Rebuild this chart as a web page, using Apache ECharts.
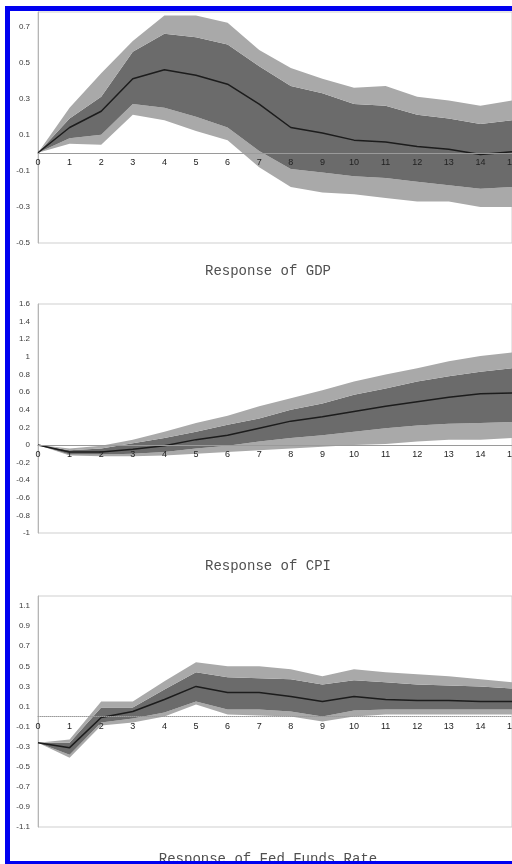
<!DOCTYPE html>
<html>
<head>
<meta charset="utf-8">
<script src="https://cdn.jsdelivr.net/npm/echarts@6/dist/echarts.min.js"></script>
<style>
html, body { margin: 0; padding: 0; background: #fff; }
#main { width: 512px; height: 864px; }
</style>
</head>
<body>
<div id="main"></div>
<script>
// horizon 0..15
var steps = ['0','1','2','3','4','5','6','7','8','9','10','11','12','13','14','15'];

// Response of GDP
var gdpMean    = [0, 0.14, 0.23, 0.41, 0.46, 0.43, 0.38, 0.27, 0.14, 0.11, 0.07, 0.06, 0.035, 0.02, -0.01, 0.005];
var gdpInnerHi = [0, 0.19, 0.31, 0.56, 0.66, 0.64, 0.6, 0.48, 0.37, 0.33, 0.27, 0.26, 0.21, 0.19, 0.16, 0.18];
var gdpInnerLo = [0, 0.08, 0.1, 0.27, 0.25, 0.2, 0.14, 0.01, -0.09, -0.11, -0.13, -0.14, -0.16, -0.18, -0.2, -0.19];
var gdpOuterHi = [0, 0.25, 0.44, 0.62, 0.76, 0.76, 0.72, 0.57, 0.47, 0.41, 0.36, 0.37, 0.31, 0.29, 0.26, 0.29];
var gdpOuterLo = [0, 0.05, 0.045, 0.21, 0.18, 0.12, 0.07, -0.08, -0.19, -0.22, -0.23, -0.25, -0.27, -0.27, -0.3, -0.3];

// Response of CPI
var cpiMean    = [0, -0.08, -0.08, -0.05, -0.01, 0.06, 0.11, 0.19, 0.27, 0.32, 0.38, 0.44, 0.49, 0.54, 0.58, 0.59];
var cpiInnerHi = [0, -0.06, -0.04, 0.02, 0.08, 0.15, 0.23, 0.3, 0.4, 0.47, 0.57, 0.64, 0.72, 0.78, 0.83, 0.87];
var cpiInnerLo = [0, -0.11, -0.11, -0.1, -0.08, -0.04, -0.01, 0.04, 0.08, 0.11, 0.15, 0.19, 0.22, 0.24, 0.25, 0.26];
var cpiOuterHi = [0, -0.04, -0.01, 0.06, 0.15, 0.25, 0.33, 0.44, 0.53, 0.62, 0.72, 0.8, 0.87, 0.95, 1.01, 1.05];
var cpiOuterLo = [0, -0.12, -0.13, -0.13, -0.12, -0.1, -0.08, -0.06, -0.04, -0.02, 0, 0.01, 0.04, 0.06, 0.06, 0.08];

// Response of Fed Funds Rate
var ffrMean    = [-0.26, -0.31, -0.01, 0.05, 0.17, 0.3, 0.24, 0.24, 0.2, 0.15, 0.2, 0.17, 0.16, 0.16, 0.15, 0.15];
var ffrInnerHi = [-0.26, -0.26, 0.09, 0.09, 0.27, 0.44, 0.39, 0.38, 0.37, 0.32, 0.36, 0.34, 0.32, 0.31, 0.3, 0.28];
var ffrInnerLo = [-0.26, -0.38, -0.06, -0.02, 0.04, 0.15, 0.07, 0.07, 0.05, 0.0, 0.06, 0.07, 0.07, 0.07, 0.07, 0.07];
var ffrOuterHi = [-0.26, -0.23, 0.15, 0.15, 0.35, 0.54, 0.5, 0.5, 0.47, 0.4, 0.47, 0.44, 0.42, 0.4, 0.37, 0.34];
var ffrOuterLo = [-0.26, -0.41, -0.09, -0.06, 0.0, 0.12, 0.02, 0.01, 0, -0.05, 0, 0.02, 0.02, 0.02, 0.02, 0.02];

var titles = ['Response of GDP', 'Response of CPI', 'Response of Fed Funds Rate'];

var lightGray = '#a9a9a9';
var darkGray = '#6b6b6b';

function diff(a, b) {
	return a.map(function(v, i) { return +(v - b[i]).toFixed(4); });
}

// stacked bands: outer low base, then light / dark / light layers
function bandSeries(idx, mean, inLo, inHi, outLo, outHi) {
	var st = 'band' + idx;
	var common = {
		type: 'line', xAxisIndex: idx, yAxisIndex: idx, stack: st, stackStrategy: 'all',
		symbol: 'none', silent: true, lineStyle: { width: 0, opacity: 0 }
	};
	function layer(data, color) {
		var s = Object.assign({}, common, { data: data });
		if (color) s.areaStyle = { color: color, opacity: 1 };
		return s;
	}
	return [
		layer(outLo, null),
		layer(diff(inLo, outLo), lightGray),
		layer(diff(inHi, inLo), darkGray),
		layer(diff(outHi, inHi), lightGray),
		{
			type: 'line', xAxisIndex: idx, yAxisIndex: idx, data: mean, symbol: 'none',
			silent: true, z: 5, lineStyle: { color: '#1c1c1c', width: 1.5 }
		}
	];
}

function oddTenths(v) {
	var t = Math.round(v * 10);
	if (Math.abs(t % 2) !== 1) return '';
	return (t / 10).toFixed(1);
}

var grids = [
	{ left: 38, right: 0, top: 12, height: 231 },
	{ left: 38, right: 0, top: 304, height: 229 },
	{ left: 38, right: 0, top: 596, height: 231 }
];
grids.forEach(function(g) {
	g.show = true;
	g.borderColor = '#cfcfcf';
	g.borderWidth = 1;
	g.containLabel = false;
	g.outerBoundsMode = 'none';
});

var yRanges = [
	{ min: -0.5, max: 0.78, interval: 0.1, fmt: oddTenths },
	{ min: -1, max: 1.6, interval: 0.2, fmt: function(v) { return String(+v.toFixed(1)); } },
	{ min: -1.1, max: 1.2, interval: 0.1, fmt: oddTenths }
];

// x axis sits on the zero line, labels included, drawn over the bands
var xAxes = [0, 1, 2].map(function(i) {
	var r = yRanges[i];
	var zeroOffset = (0 - r.min) / (r.max - r.min) * grids[i].height;
	return {
		type: 'category', gridIndex: i, data: steps, boundaryGap: false, z: 10,
		position: 'bottom', offset: -zeroOffset,
		axisLine: { onZero: false, lineStyle: { color: '#9a9a9a', width: 1, type: i === 2 ? 'dotted' : 'solid' } },
		axisTick: { show: false },
		axisLabel: { interval: 0, fontSize: 9, color: '#222', margin: 5, fontFamily: 'Liberation Sans', hideOverlap: false }
	};
});

var yAxes = yRanges.map(function(r, i) {
	return {
		type: 'value', gridIndex: i, min: r.min, max: r.max, interval: r.interval,
		splitLine: { show: false },
		axisLine: { show: true, lineStyle: { color: '#b5b5b5' } },
		axisTick: { show: false },
		axisLabel: { formatter: r.fmt, fontSize: 8, color: '#3a3a3a', margin: 8, fontFamily: 'Liberation Sans' }
	};
});

var series = []
	.concat(bandSeries(0, gdpMean, gdpInnerLo, gdpInnerHi, gdpOuterLo, gdpOuterHi))
	.concat(bandSeries(1, cpiMean, cpiInnerLo, cpiInnerHi, cpiOuterLo, cpiOuterHi))
	.concat(bandSeries(2, ffrMean, ffrInnerLo, ffrInnerHi, ffrOuterLo, ffrOuterHi));

var titleY = [271, 566, 859];
var graphics = titles.map(function(t, i) {
	return {
		type: 'text', z: 50, silent: true,
		style: {
			text: t, x: 268, y: titleY[i], textAlign: 'center', textVerticalAlign: 'middle',
			font: '14px "Liberation Mono"', fill: '#505050'
		}
	};
});
// blue frame of the scanned figure
graphics.push({ type: 'rect', z: 100, shape: { x: 5, y: 6, width: 5, height: 858 }, style: { fill: '#0000f0' } });
graphics.push({ type: 'rect', z: 100, shape: { x: 5, y: 6, width: 507, height: 5 }, style: { fill: '#0000f0' } });
graphics.push({ type: 'rect', z: 100, shape: { x: 5, y: 861, width: 507, height: 3 }, style: { fill: '#0000f0' } });

var myChart = echarts.init(document.getElementById('main'));
myChart.setOption({
	backgroundColor: '#ffffff',
	animation: false,
	grid: grids,
	xAxis: xAxes,
	yAxis: yAxes,
	series: series,
	graphic: graphics
});
</script>
</body>
</html>
